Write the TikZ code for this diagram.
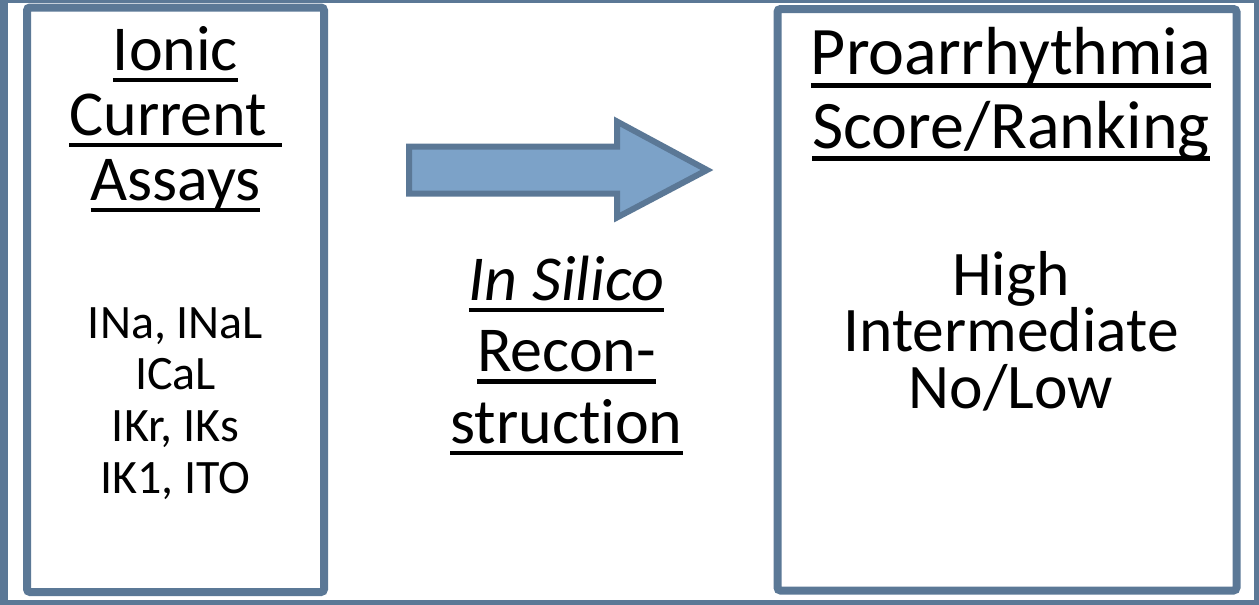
\documentclass[tikz,border=0pt]{standalone}
\usepackage{fontspec}
\setmainfont{Carlito}[Ligatures=NoCommon]
\usetikzlibrary{positioning}
\definecolor{frame}{HTML}{5B7896}
\definecolor{arrowfill}{HTML}{7CA2C8}
% underline at a fixed depth below the baseline
\newcommand{\ulbox}[1]{\leavevmode\setbox0\hbox{#1}\rlap{\rule[-0.19em]{\wd0}{0.07em}}\box0}

\begin{document}
\begin{tikzpicture}[x=0.5pt,y=-0.5pt, every node/.style={align=center,inner sep=0pt,anchor=base},
  bx/.style={draw=frame,line width=4pt,rounded corners=1.5pt},
  hdl/.style={font=\fontsize{32}{32.5}\selectfont},
  hdr/.style={font=\fontsize{34}{36.5}\selectfont},
  mid/.style={font=\fontsize{32}{35.75}\selectfont},
  lst/.style={font=\fontsize{24}{25.8}\selectfont},
  rnk/.style={font=\fontsize{31.75}{28.25}\selectfont}]
  \useasboundingbox (0,0) rectangle (1259,605);
  \draw[draw=frame,line width=4pt] (4,-1) rectangle (1258,604);
  \draw[bx] (27,7.5) rectangle (324,592);
  \draw[bx] (777.5,9) rectangle (1236.5,590.5);
  \draw[draw=frame,fill=arrowfill,line width=3pt] (409,146.5) -- (617,146.5) -- (617,121.5) -- (707,170)
    -- (617,217.5) -- (617,193.5) -- (409,193.5) -- cycle;
  % nodes sit on the baseline of their last line
  \node[hdl] (assays) at (175.5,200) {\ulbox{Ionic}\\\ulbox{Current\ }\\\ulbox{Assays}};
  \node[lst] (currents) at (175.5,493) {INa, INaL\\ICaL\\IKr, IKs\\IK1, ITO};
  \node[mid] (insilico) at (566.5,443) {\ulbox{\itshape In Silico}\\\ulbox{Recon-}\\\ulbox{struction}};
  \node[hdr] (score) at (1011,148) {\ulbox{Proarrhythmia}\\\ulbox{Score/Ranking}};
  \node[rnk] (levels) at (1011,408) {High\\Intermediate\\No/Low};
\end{tikzpicture}
\end{document}
